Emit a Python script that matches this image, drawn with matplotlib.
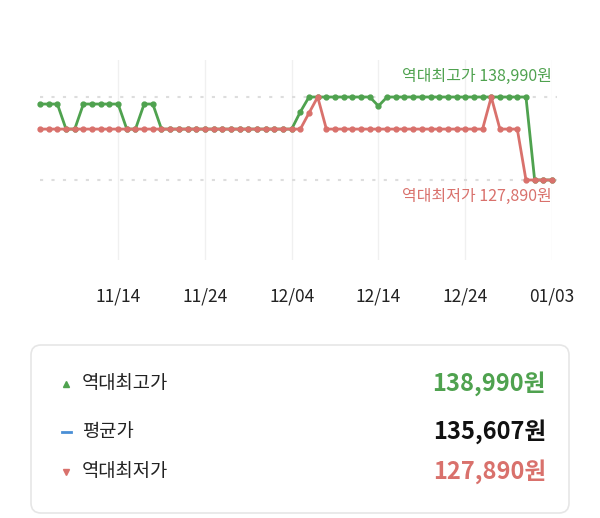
import matplotlib
matplotlib.use("Agg")
import matplotlib.pyplot as plt
from matplotlib.patches import FancyBboxPatch
import numpy as np

plt.rcParams['font.family'] = ['Noto Sans CJK KR', 'DejaVu Sans']

GREEN = '#4fa24f'
RED = '#d9716c'

days = list(range(60))
tick_days = [9, 19, 29, 39, 49, 59]
tick_labels = ['11/14', '11/24', '12/04', '12/14', '12/24', '01/03']

high = ([138050]*3 + [134700]*2 + [138050]*5 + [134700]*2 + [138050]*2 + [134700]*16
        + [137000] + [138990]*8 + [137790] + [138990]*17 + [127890]*3)
low = ([134700]*30 + [134700, 136850, 138990] + [134700]*19 + [138990] + [134700]*3
       + [127890]*4)

max_price = 138990
min_price = 127890
avg_price = 135607

fig = plt.figure(figsize=(6, 5.18), dpi=100)
W, H = 600, 518
ax = fig.add_axes([40/W, (H-260)/H, 512/W, 200/H])
ax.set_xlim(0, 59)
s = 11100/83
ax.set_ylim(min_price - 80*s, max_price + 37*s)
for sp in ax.spines.values():
    sp.set_visible(False)
ax.set_yticks([])
ax.set_xticks(tick_days)
ax.set_xticklabels(tick_labels, fontsize=12.5, color='#222222')
ax.tick_params(axis='x', length=0, pad=20)
ax.grid(axis='x', color='#f0f0f0', lw=1)

ax.axhline(max_price, color='#dddddd', ls=(0, (1.5, 4)), lw=1.5, xmin=0, xmax=1.01, clip_on=False)
ax.axhline(min_price, color='#dddddd', ls=(0, (1.5, 4)), lw=1.5, xmin=0, xmax=1.01, clip_on=False)

ax.plot(days, high, color=GREEN, lw=2, marker='o', ms=3.5, clip_on=False, zorder=3)
ax.plot(days, low, color=RED, lw=2, marker='o', ms=3.5, clip_on=False, zorder=4)

ax.text(59, max_price + 12*s, f'역대최고가 {max_price:,}원', color=GREEN, fontsize=11.5,
        ha='right', va='bottom')
ax.text(59, min_price - 8*s, f'역대최저가 {min_price:,}원', color=RED, fontsize=11.5,
        ha='right', va='top')

# summary box
bax = fig.add_axes([0, 0, 1, 1])
bax.set_xlim(0, W)
bax.set_ylim(H, 0)
bax.axis('off')
box = FancyBboxPatch((31, 345), 538, 168, boxstyle='round,pad=0,rounding_size=10',
                     fc='white', ec='#e6e6e6', lw=1.2)
bax.add_patch(box)
rows = [(384, '역대최고가', max_price, GREEN, '^', GREEN),
        (432, '평균가', avg_price, '#111111', '_', '#4a8fd6'),
        (472, '역대최저가', min_price, RED, 'v', RED)]
for y, lab, val, vcol, mk, mcol in rows:
    if mk == '_':
        bax.plot([62, 71], [y, y], color=mcol, lw=2)
    else:
        bax.plot(66, y, marker=mk, color=mcol, ms=5, ls='none')
    bax.text(82, y, lab, fontsize=13.5, color='#222222', va='center', ha='left')
    bax.text(546, y, f'{val:,}원', fontsize=17, fontweight='bold', color=vcol,
             va='center', ha='right')

fig.savefig('out.png', dpi=100)
